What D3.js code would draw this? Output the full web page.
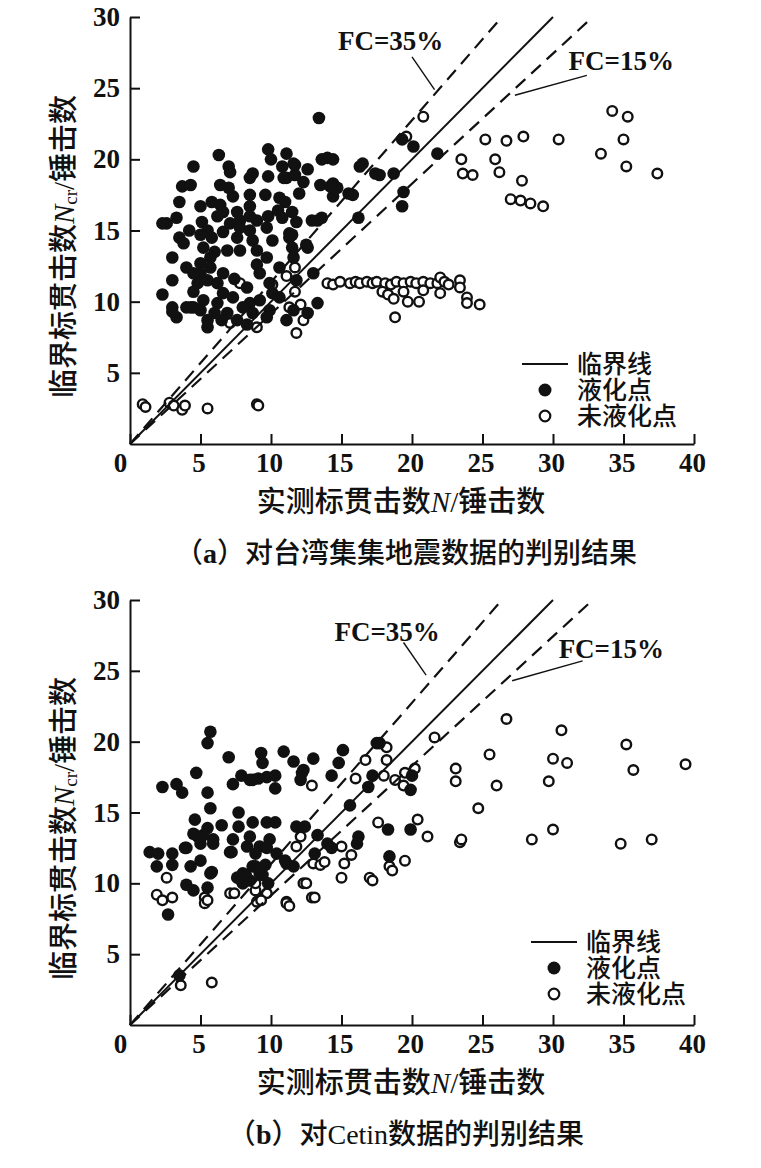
<!DOCTYPE html>
<html>
<head>
<meta charset="utf-8">
<script src="https://cdn.jsdelivr.net/npm/d3@7"></script>
<style>
  body { margin: 0; background: #fff; }
  text { font-family: "Liberation Serif", "Noto Sans CJK SC", serif; fill: #111; }
</style>
</head>
<body>
<svg id="chart" width="761" height="1168"></svg>
<script>
// axis ticks
const xTicks = [0, 5, 10, 15, 20, 25, 30, 35, 40];
const yTicks = [5, 10, 15, 20, 25, 30];

// reference lines (N, Ncr)
const critLine = [[0, 0], [30, 30]];
const fc35Line = [[0, 0], [26.2, 29.8]];
const fc15Line = [[0, 0], [32.7, 29.9]];

// (a) Chi-Chi data: liquefied points [N, Ncr]
const liqA = [
  [9.8,20.7],[6.3,20.3],[7.0,19.5],[7.1,19.1],[4.5,19.5],[14.0,20.1],[13.6,20.0],[10.8,19.5],
  [11.7,19.6],[12.6,19.3],[11.1,18.7],[12.3,18.4],[8.7,19.0],[8.5,18.7],[9.8,18.8],[14.4,18.3],
  [14.4,17.4],[3.7,18.1],[4.3,18.2],[6.4,18.2],[3.5,17.0],[5.0,16.7],[5.8,17.0],[6.4,16.8],
  [7.3,17.4],[8.5,17.5],[9.6,17.5],[10.6,17.3],[11.0,17.0],[6.6,16.3],[7.6,16.3],[8.5,16.7],
  [9.8,16.0],[10.5,16.4],[11.5,16.3],[2.6,15.5],[3.3,15.9],[5.1,15.6],[7.1,15.5],[7.8,15.7],
  [9.0,15.7],[10.8,15.9],[11.8,15.6],[12.9,15.7],[13.6,15.9],[5.5,15.0],[6.6,14.9],[8.5,15.0],
  [9.7,15.2],[3.5,14.5],[3.8,14.1],[5.0,14.7],[5.8,14.5],[7.6,14.5],[8.7,14.3],[7.8,13.6],
  [6.9,13.6],[5.2,13.8],[6.0,13.5],[11.3,14.5],[11.5,13.8],[12.6,13.8],[9.7,13.1],[9.0,12.6],
  [3.0,13.1],[4.0,12.4],[5.0,12.7],[5.7,13.1],[6.6,12.0],[5.0,12.0],[4.8,11.3],[5.5,11.5],
  [3.0,11.5],[2.3,10.5],[3.0,9.6],[3.3,8.9],[4.5,10.7],[4.5,9.6],[5.2,10.1],[5.5,8.7],
  [5.5,8.2],[6.2,9.9],[6.6,10.6],[7.3,10.3],[8.3,11.0],[8.5,9.9],[8.7,9.2],[9.2,12.0],
  [9.2,10.1],[10.1,10.6],[9.9,9.4],[10.6,10.3],[11.1,8.7],[6.9,9.2],[7.6,8.7],[8.3,8.4],
  [6.5,8.7],[4.0,9.6],[5.0,9.4],[6.0,9.2],[8.0,9.6],[11.6,9.4],[13.3,9.9],[13.0,12.0],
  [11.8,11.5],[13.4,22.9],[16.5,19.7],[17.4,19.0],[14.7,18.0],[15.5,17.6],[16.2,15.9],[11.3,14.8],
  [13.3,15.7],[12.5,14.0],[11.5,14.7],[12.6,9.2],[9.7,8.9],[4.3,9.6],[19.3,21.4],[20.1,20.9],
  [21.8,20.4],[18.7,19.0],[19.4,17.7],[19.3,16.7],[17.7,18.9],[2.3,15.5],[3.0,9.3],[13.5,18.2],
  [14.2,18.1],[14.4,20.0],[15.8,17.5],[16.3,19.5],[11.1,20.4],[11.6,19.7],[11.7,18.9],[10.9,18.7],
  [6.2,16.0],[8.5,16.0],[7.8,15.2],[5.7,12.4],[6.2,11.3],[9.0,13.6],[10.6,12.4],[4.5,12.0],
  [10.1,14.3],[11.6,13.1],[7.4,11.6],[9.9,11.3],[4.2,15.0],[7.0,18.0],[12.0,17.6],[10.0,20.0]
];
// (a) non-liquefied points
const nonA = [
  [20.8,23.0],[19.6,21.6],[25.2,21.4],[26.7,21.3],[27.9,21.6],[30.4,21.4],[34.2,23.4],[35.3,23.0],
  [35.0,21.4],[33.4,20.4],[35.2,19.5],[37.4,19.0],[23.5,20.0],[23.6,19.0],[24.3,18.9],[25.9,20.0],
  [26.2,19.1],[27.8,18.5],[27.0,17.2],[27.7,17.1],[28.4,16.9],[29.3,16.7],
  [14.0,11.3],[14.4,11.2],[14.9,11.4],[15.6,11.3],[16.0,11.4],[16.3,11.3],[16.8,11.4],[17.2,11.3],
  [17.5,11.4],[18.1,11.3],[18.5,11.2],[18.9,11.4],[19.4,11.3],[19.9,11.4],[20.3,11.3],[20.8,11.4],
  [21.3,11.3],[21.8,11.3],[22.0,11.7],[22.3,11.4],[22.6,11.2],[23.4,11.5],[23.4,11.0],[17.9,10.7],
  [18.3,10.5],[18.7,10.2],[19.4,10.7],[19.7,10.0],[20.5,10.0],[20.8,10.8],[22.0,10.6],[23.9,10.3],
  [23.9,9.9],[24.8,9.8],[18.8,8.9],
  [11.7,12.4],[11.1,11.8],[10.1,11.2],[12.1,9.8],[11.3,9.6],[12.3,8.7],[11.8,7.8],[7.1,8.5],
  [9.0,8.2],[7.8,11.3],[11.7,10.7],
  [0.9,2.8],[1.1,2.6],[2.8,2.9],[3.1,2.7],[3.7,2.4],[3.9,2.7],[5.5,2.5],[9.0,2.8],[9.1,2.7]
];

// (b) Cetin data: liquefied points
const liqB = [
  [5.7,20.7],[5.5,19.9],[7.0,18.9],[9.3,19.2],[9.4,18.5],[10.9,19.3],[11.6,18.6],[13.0,18.8],
  [12.2,17.8],[12.1,17.3],[15.1,19.4],[14.8,18.5],[14.3,17.6],[17.5,19.9],[17.2,17.6],[16.9,16.8],
  [15.6,15.5],[2.3,16.8],[3.3,17.0],[3.7,16.4],[4.7,17.8],[5.5,16.4],[5.7,15.3],[7.3,17.0],
  [7.9,17.6],[8.7,17.3],[9.7,17.5],[10.3,17.6],[10.3,16.7],[7.7,15.0],[4.6,14.5],[5.5,13.9],
  [6.5,14.1],[7.7,14.0],[8.7,14.3],[9.7,14.3],[10.3,14.3],[11.8,14.0],[12.4,14.0],[1.4,12.2],
  [2.0,12.1],[3.0,12.1],[1.9,11.2],[3.0,11.3],[3.9,12.5],[4.3,11.2],[5.0,11.6],[4.8,13.3],
  [5.9,12.8],[5.7,10.7],[7.1,12.2],[7.3,13.1],[8.5,13.3],[9.2,12.6],[9.9,13.1],[10.4,12.1],
  [8.7,11.2],[8.0,10.7],[11.1,11.4],[11.6,11.2],[14.0,12.8],[13.1,12.1],[16.2,13.3],[16.1,12.8],
  [12.3,18.0],[4.5,13.5],[5.2,13.4],[5.9,13.1],[13.3,13.4],[14.3,12.5],[4.0,12.5],[5.0,12.8],
  [8.3,12.6],[8.9,12.1],[9.7,12.5],[5.8,10.8],[8.9,11.2],[9.2,10.7],[9.6,11.3],[11.0,11.6],
  [7.6,10.4],[8.0,10.0],[8.5,10.2],[4.0,9.9],[4.5,9.5],[5.5,9.7],[2.7,7.8],[3.5,3.5],
  [7.9,10.2],[8.2,10.6],[9.4,10.6],[9.8,10.0],[20.0,17.6],[19.9,16.6],[18.3,13.8],[19.9,13.8],
  [18.4,11.9],[17.7,19.9],[8.5,17.3],[9.1,17.4],[7.2,12.2]
];
// (b) non-liquefied points
const nonB = [
  [26.7,21.6],[30.6,20.8],[35.2,19.8],[39.4,18.4],[35.7,18.0],[30.0,18.8],[31.0,18.5],[29.7,17.2],
  [25.5,19.1],[26.0,16.9],[23.1,18.1],[23.1,17.2],[21.6,20.3],[24.7,15.3],[30.0,13.8],[28.5,13.1],
  [23.4,12.9],[23.5,13.1],[34.8,12.8],[37.0,13.1],[20.4,14.5],[21.1,13.3],[19.5,11.6],[18.4,11.2],
  [18.2,19.6],[18.2,18.7],[18.0,17.6],[18.8,17.3],[19.5,17.8],[20.2,18.1],[19.4,16.9],[12.9,16.9],
  [16.0,17.4],[16.7,18.7],[11.8,12.6],[12.1,13.3],[15.0,12.6],[15.7,12.0],[15.2,11.4],[13.0,11.4],
  [13.5,11.3],[13.8,11.5],[17.6,14.3],[15.0,10.4],[17.0,10.4],[2.6,10.4],[12.3,10.0],[12.9,9.0],
  [11.1,8.7],[11.1,8.6],[1.9,9.2],[2.3,8.8],[3.0,9.0],[5.3,9.0],[5.3,8.6],[7.1,9.3],
  [9.0,8.7],[8.9,9.5],[9.7,9.3],[3.6,2.8],[5.8,3.0],[5.5,8.8],[7.4,9.3],[9.3,8.8],
  [8.9,10.0],[11.3,8.4],[12.5,10.0],[13.1,9.0],[17.2,10.2],[18.6,10.9]
];

const legendLabels = ["临界线", "液化点", "未液化点"];

const panels = [
  {
    liq: liqA, non: nonA, top: 17, bottom: 444,
    tag: "a", captionText: "对台湾集集地震数据的判别结果",
    fc35: { text: [14.75, 27.7], lead: [[20.0, 27.2], [21.6, 24.9]] },
    fc15: { text: [31.1, 26.3], lead: [[32.4, 25.9], [27.3, 24.5]] },
    legend: [522, 364]
  },
  {
    liq: liqB, non: nonB, top: 600, bottom: 1025,
    tag: "b", captionText: "对Cetin数据的判别结果",
    fc35: { text: [14.5, 27.1], lead: [[19.4, 27.0], [21.0, 24.7]] },
    fc15: { text: [30.4, 25.9], lead: [[32.1, 25.7], [27.1, 24.3]] },
    legend: [531, 942]
  }
];

const svg = d3.select("#chart");
const left = 130, right = 694;

panels.forEach(function (p) {
  const x = d3.scaleLinear().domain([0, 40]).range([left, right]);
  const y = d3.scaleLinear().domain([0, 30]).range([p.bottom, p.top]);
  const g = svg.append("g");
  const line = d3.line().x(d => x(d[0])).y(d => y(d[1]));

  // open points first, filled ones on top
  g.selectAll(".non").data(p.non).enter().append("circle")
    .attr("cx", d => x(d[0])).attr("cy", d => y(d[1])).attr("r", 4.8)
    .style("fill", "#fff").style("stroke", "#111").style("stroke-width", 2.4);
  g.selectAll(".liq").data(p.liq).enter().append("circle")
    .attr("cx", d => x(d[0])).attr("cy", d => y(d[1])).attr("r", 6.3)
    .style("fill", "#111");

  // reference lines
  g.append("path").attr("d", line(critLine))
    .style("fill", "none").style("stroke", "#111").style("stroke-width", 2);
  [fc35Line, fc15Line].forEach(function (l) {
    g.append("path").attr("d", line(l))
      .style("fill", "none").style("stroke", "#111").style("stroke-width", 2.2)
      .style("stroke-dasharray", "13,8");
  });

  // FC annotations
  [["FC=35%", p.fc35], ["FC=15%", p.fc15]].forEach(function (a) {
    g.append("text").attr("x", x(a[1].text[0])).attr("y", y(a[1].text[1]))
      .style("font-size", "27px").style("font-weight", "bold").text(a[0]);
    g.append("path").attr("d", line(a[1].lead))
      .style("fill", "none").style("stroke", "#111").style("stroke-width", 1.4);
  });

  // axes
  const xAxis = g.append("g").attr("transform", "translate(0," + p.bottom + ")")
    .call(d3.axisBottom(x).tickValues(xTicks).tickSizeInner(-10).tickSizeOuter(0).tickPadding(9));
  xAxis.selectAll("text").attr("dy", "0.71em")
    .attr("dx", d => d === 0 ? -10 : -2);
  g.append("g").attr("transform", "translate(" + left + ",0)")
    .call(d3.axisLeft(y).tickValues(yTicks).tickSizeInner(-10).tickSizeOuter(0).tickPadding(10));
  g.selectAll(".domain, .tick line").style("stroke", "#111").style("stroke-width", 2);
  g.selectAll(".tick text").style("font-size", "27px").style("font-family", "Liberation Serif")
    .style("font-weight", "bold").style("fill", "#111");

  // y axis title
  const yl = g.append("text")
    .attr("transform", "translate(64," + ((p.top + p.bottom) / 2 + 16) + ") rotate(-90)")
    .attr("text-anchor", "middle").attr("dominant-baseline", "central")
    .style("font-size", "29px").style("font-weight", 500);
  yl.append("tspan").text("临界标贯击数");
  yl.append("tspan").style("font-style", "italic").style("font-weight", "normal").text("N");
  yl.append("tspan").attr("dy", 6).style("font-size", "19px").style("font-weight", "normal").text("cr");
  yl.append("tspan").attr("dy", -6).text("/锤击数");

  // x axis title
  const xl = g.append("text").attr("x", 401).attr("y", p.bottom + 58)
    .attr("text-anchor", "middle").attr("dominant-baseline", "central")
    .style("font-size", "29px").style("font-weight", 500);
  xl.append("tspan").text("实测标贯击数");
  xl.append("tspan").style("font-style", "italic").style("font-weight", "normal").text("N");
  xl.append("tspan").text("/锤击数");

  // caption
  const cap = g.append("text").attr("x", 406).attr("y", p.bottom + 109)
    .attr("text-anchor", "middle").attr("dominant-baseline", "central")
    .style("font-size", "28px").style("font-weight", 500);
  cap.append("tspan").text("（");
  cap.append("tspan").style("font-weight", "bold").text(p.tag);
  cap.append("tspan").text("）" + p.captionText);

  // legend
  const lg = g.append("g").attr("transform", "translate(" + p.legend[0] + "," + p.legend[1] + ")");
  lg.append("line").attr("x1", 0).attr("x2", 46).attr("y1", 0).attr("y2", 0)
    .style("stroke", "#111").style("stroke-width", 2);
  lg.append("circle").attr("cx", 23).attr("cy", 26).attr("r", 6.5).style("fill", "#111");
  lg.append("circle").attr("cx", 23).attr("cy", 52).attr("r", 5.3)
    .style("fill", "#fff").style("stroke", "#111").style("stroke-width", 2.2);
  lg.selectAll(".lab").data(legendLabels).enter().append("text")
    .attr("x", 55).attr("y", (d, i) => i * 26)
    .attr("dominant-baseline", "central").style("font-size", "25px")
    .style("font-weight", 500).text(d => d);
});
</script>
</body>
</html>
